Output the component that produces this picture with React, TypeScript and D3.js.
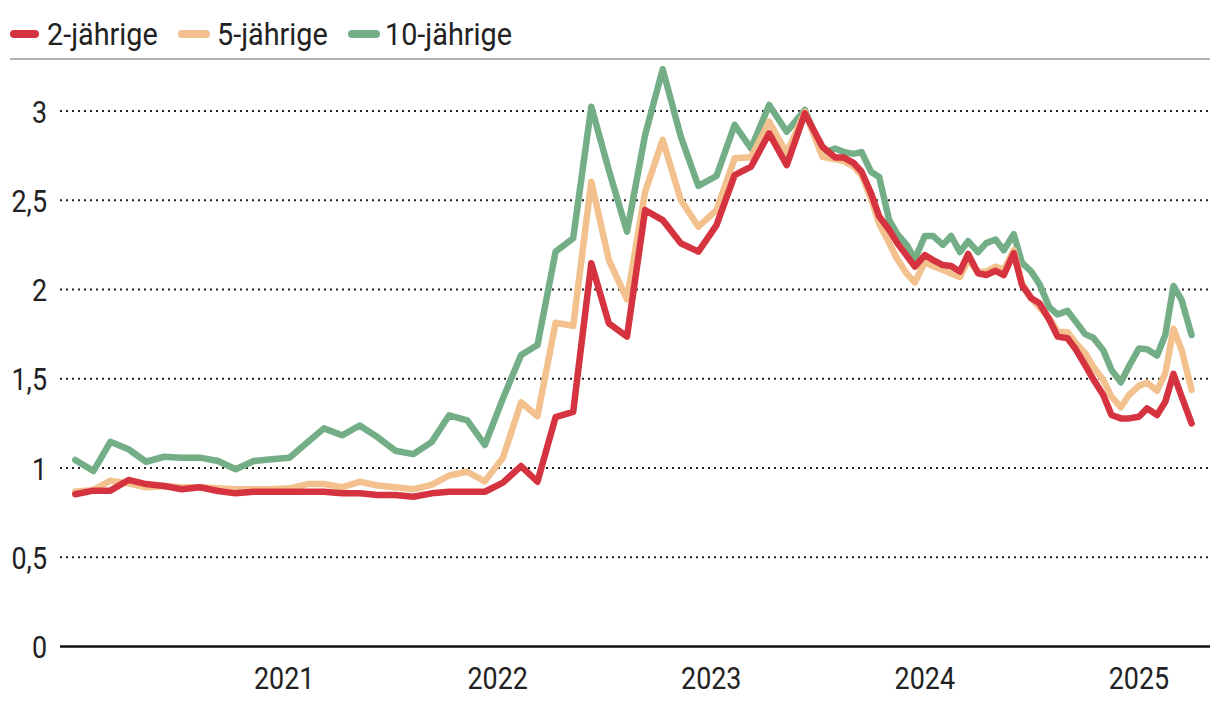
import React from "react";
import * as d3 from "d3";

const dates: string[] = [
  "2020-01-10","2020-02-10","2020-03-10","2020-04-10","2020-05-10","2020-06-10","2020-07-10","2020-08-10","2020-09-10","2020-10-10","2020-11-10","2020-12-10",
  "2021-01-10","2021-02-10","2021-03-10","2021-04-10","2021-05-10","2021-06-10","2021-07-10","2021-08-10","2021-09-10","2021-10-10","2021-11-10","2021-12-10",
  "2022-01-10","2022-02-10","2022-03-10","2022-04-10","2022-05-10","2022-06-10","2022-07-10","2022-08-10","2022-09-10","2022-10-10","2022-11-10","2022-12-10",
  "2023-01-10","2023-02-10","2023-03-10","2023-04-10","2023-05-10","2023-06-10","2023-07-10",
  "2023-08-01","2023-08-15","2023-09-01","2023-09-15","2023-10-01","2023-10-15","2023-11-01","2023-11-15","2023-12-01","2023-12-15",
  "2024-01-01","2024-01-15","2024-02-01","2024-02-15","2024-03-01","2024-03-15","2024-04-01","2024-04-15","2024-05-01","2024-05-15","2024-06-01","2024-06-15",
  "2024-07-01","2024-07-15","2024-08-01","2024-08-15","2024-09-01","2024-09-15","2024-10-01","2024-10-15","2024-11-01","2024-11-15","2024-12-01","2024-12-15",
  "2025-01-01","2025-01-15","2025-02-01","2025-02-15","2025-03-01","2025-03-15","2025-04-01",
];

const y2: number[] = [
  0.853,0.873,0.873,0.933,0.910,0.899,0.881,0.892,0.871,0.858,0.867,0.867,
  0.867,0.867,0.867,0.858,0.858,0.849,0.849,0.839,0.858,0.867,0.867,0.867,
  0.918,1.011,0.923,1.285,1.315,2.147,1.810,1.736,2.445,2.389,2.259,2.212,
  2.361,2.641,2.688,2.875,2.697,2.987,2.800,
  2.74,2.74,2.71,2.66,2.54,2.41,2.335,2.26,2.19,2.128,
  2.193,2.165,2.137,2.132,2.10,2.199,2.091,2.081,2.105,2.081,2.203,2.025,
  1.951,1.923,1.829,1.736,1.727,1.665,1.577,1.497,1.409,1.297,1.278,1.278,
  1.287,1.334,1.297,1.371,1.527,1.40,1.25,
];

const y5: number[] = [
  0.867,0.877,0.929,0.914,0.892,0.899,0.892,0.892,0.886,0.881,0.881,0.881,
  0.886,0.910,0.910,0.892,0.923,0.902,0.892,0.881,0.905,0.958,0.979,0.925,
  1.058,1.368,1.290,1.814,1.796,2.604,2.165,1.945,2.548,2.838,2.501,2.352,
  2.445,2.735,2.741,2.940,2.763,2.996,2.744,
  2.73,2.72,2.69,2.64,2.51,2.37,2.26,2.17,2.09,2.04,
  2.155,2.13,2.11,2.09,2.07,2.165,2.10,2.10,2.128,2.11,2.22,2.035,
  1.95,1.90,1.84,1.764,1.76,1.70,1.643,1.567,1.493,1.40,1.34,1.409,
  1.46,1.478,1.433,1.53,1.78,1.66,1.437,
];

const y10: number[] = [
  1.045,0.983,1.147,1.105,1.035,1.063,1.058,1.058,1.039,0.993,1.039,1.049,
  1.058,1.144,1.222,1.183,1.238,1.172,1.097,1.078,1.145,1.295,1.267,1.129,
  1.390,1.633,1.689,2.212,2.287,3.024,2.669,2.324,2.866,3.234,2.856,2.580,
  2.636,2.922,2.791,3.034,2.884,3.006,2.763,
  2.79,2.77,2.76,2.77,2.66,2.63,2.39,2.31,2.25,2.17,
  2.30,2.30,2.25,2.30,2.21,2.27,2.21,2.26,2.28,2.22,2.31,2.15,
  2.10,2.03,1.90,1.86,1.88,1.82,1.75,1.73,1.66,1.55,1.48,1.57,
  1.67,1.665,1.63,1.745,2.02,1.94,1.745,
];

const seriesNames = ["2-jährige", "5-jährige", "10-jährige"];
const seriesColors = ["#d63340", "#f2c18e", "#74ae86"];
const yTicks = [0, 0.5, 1, 1.5, 2, 2.5, 3];
const yearTicks = ["2021", "2022", "2023", "2024", "2025"];

const W = 1220;
const H = 706;
const FONT = "Roboto, 'Noto Sans', sans-serif";
const SX = 0.84;

export default function App() {
  const parse = d3.utcParse("%Y-%m-%d");
  const x = d3
    .scaleUtc()
    .domain([parse("2020-01-01")!, parse("2025-04-01")!])
    .range([70, 1191.6]);
  const y = d3.scaleLinear().domain([0, 3]).range([646.5, 111]);
  const loc = d3.formatLocale({ decimal: ",", thousands: ".", grouping: [3], currency: ["", "€"] });
  const fmt = loc.format("~g");

  const allSeries = [y2, y5, y10];
  const line = d3
    .line<[Date, number]>()
    .x((d) => x(d[0]))
    .y((d) => y(d[1]));
  const paths = allSeries.map((vals) =>
    line(vals.map((v, i) => [parse(dates[i])!, v] as [Date, number])) || ""
  );
  const drawOrder = [2, 1, 0];

  const legendX = [
    { sw: [14, 35], tx: 47 },
    { sw: [182, 206], tx: 217 },
    { sw: [352, 376], tx: 385 },
  ];

  const left = 60;
  const right = 1210;

  return (
    <svg
      width={W}
      height={H}
      style={{ position: "absolute", left: 0, top: 0, background: "#fff" }}
      fontFamily={FONT}
    >
      {/* legend */}
      {seriesNames.map((n, i) => (
        <g key={n}>
          <line
            x1={legendX[i].sw[0]}
            x2={legendX[i].sw[1]}
            y1={34}
            y2={34}
            stroke={seriesColors[i]}
            strokeWidth={8}
            strokeLinecap="round"
          />
          <g transform={`translate(${legendX[i].tx},45) scale(0.9,1)`}>
            <text fontSize={32} fill="#222">{n}</text>
          </g>
        </g>
      ))}
      <line x1={10} x2={right} y1={59} y2={59} stroke="#999" strokeWidth={1.6} />

      {/* grid + y labels */}
      {yTicks.map((t) => (
        <g key={t}>
          {t === 0 ? (
            <line x1={left} x2={right} y1={y(t)} y2={y(t)} stroke="#111" strokeWidth={2.5} />
          ) : (
            <line
              x1={left}
              x2={right}
              y1={y(t)}
              y2={y(t)}
              stroke="#222"
              strokeWidth={2}
              strokeDasharray="2,4"
            />
          )}
          <g transform={`translate(47,${y(t) + 11.5}) scale(${SX},1)`}>
            <text fontSize={32} fill="#222" textAnchor="end">
              {fmt(t)}
            </text>
          </g>
        </g>
      ))}

      {/* x labels */}
      {yearTicks.map((yr) => (
        <g key={yr} transform={`translate(${x(parse(`${yr}-01-01`)!)},689) scale(${SX},1)`}>
          <text fontSize={32} fill="#222" textAnchor="middle">
            {yr}
          </text>
        </g>
      ))}

      {/* lines */}
      {drawOrder.map((i) => (
        <path
          key={i}
          d={paths[i]}
          fill="none"
          stroke={seriesColors[i]}
          strokeWidth={6.5}
          strokeLinejoin="round"
          strokeLinecap="round"
        />
      ))}
    </svg>
  );
}
